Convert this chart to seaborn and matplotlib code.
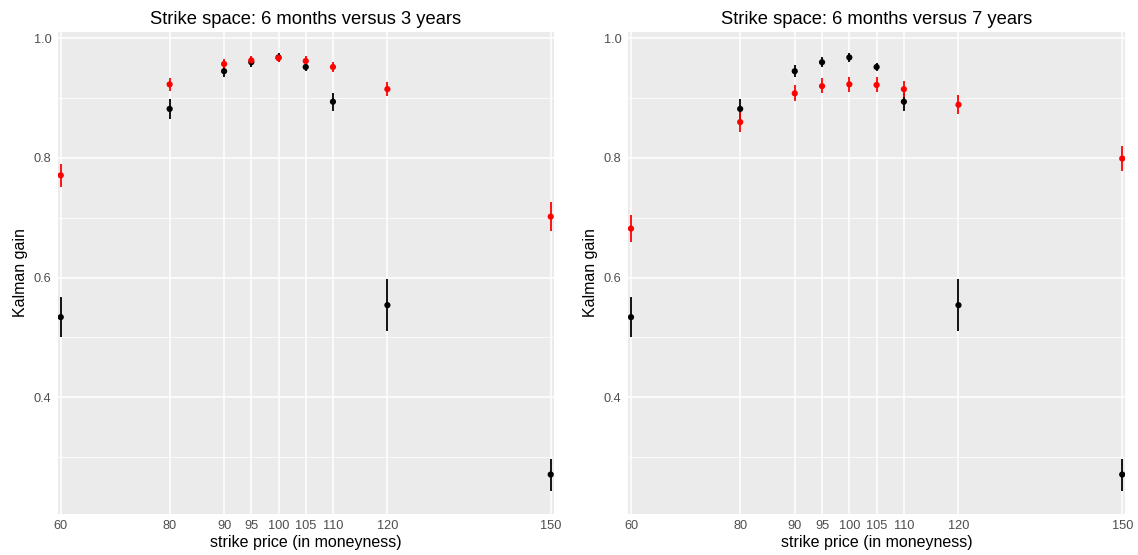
import matplotlib
matplotlib.use("Agg")
import matplotlib.pyplot as plt
import seaborn as sns
import pandas as pd
import numpy as np

# Strike grid (moneyness, %)
strikes = [60, 80, 90, 95, 100, 105, 110, 120, 150]

# Kalman gain estimates and 95% bands: 6-month contract
gain_6m = [0.534, 0.882, 0.945, 0.960, 0.968, 0.952, 0.894, 0.554, 0.271]
lo_6m = [0.501, 0.865, 0.935, 0.952, 0.961, 0.945, 0.879, 0.510, 0.244]
hi_6m = [0.568, 0.898, 0.955, 0.968, 0.975, 0.959, 0.909, 0.598, 0.297]

# 3-year contract
gain_3y = [0.771, 0.923, 0.957, 0.963, 0.967, 0.962, 0.952, 0.915, 0.702]
lo_3y = [0.751, 0.912, 0.948, 0.955, 0.960, 0.954, 0.944, 0.903, 0.678]
hi_3y = [0.790, 0.934, 0.966, 0.971, 0.974, 0.970, 0.960, 0.927, 0.727]

# 7-year contract
gain_7y = [0.682, 0.860, 0.908, 0.920, 0.923, 0.922, 0.915, 0.889, 0.799]
lo_7y = [0.659, 0.843, 0.895, 0.908, 0.911, 0.910, 0.902, 0.873, 0.779]
hi_7y = [0.704, 0.878, 0.922, 0.933, 0.935, 0.935, 0.928, 0.905, 0.820]

titles = ["Strike space: 6 months versus 3 years",
          "Strike space: 6 months versus 7 years"]
long_series = [(gain_3y, lo_3y, hi_3y), (gain_7y, lo_7y, hi_7y)]

sns.set_theme(style="darkgrid")
plt.rcParams["font.family"] = ["Liberation Sans", "DejaVu Sans"]

fig = plt.figure(figsize=(11.38, 5.55), dpi=100)
boxes = [[0.0510, 0.0744, 0.4358, 0.8674], [0.5521, 0.0744, 0.4369, 0.8674]]

for box, title, (g, lo, hi) in zip(boxes, titles, long_series):
    ax = fig.add_axes(box)
    ax.set_facecolor("#EBEBEB")
    for s in ax.spines.values():
        s.set_visible(False)

    short = pd.DataFrame({"strike": strikes, "gain": gain_6m, "lo": lo_6m, "hi": hi_6m})
    longer = pd.DataFrame({"strike": strikes, "gain": g, "lo": lo, "hi": hi})

    for df, col in [(short, "black"), (longer, "#FF0000")]:
        ax.vlines(df["strike"], df["lo"], df["hi"], colors=col, linewidth=1.3, zorder=3)
        sns.scatterplot(data=df, x="strike", y="gain", color=col, s=20,
                        edgecolor="none", ax=ax, zorder=4, legend=False)

    ax.set_xlim(59.5, 150.6)
    ax.set_ylim(0.2055, 1.01)
    ax.set_xticks(strikes)
    ax.set_xticklabels([str(v) for v in strikes])
    ax.set_yticks([0.4, 0.6, 0.8, 1.0])
    ax.set_yticks([0.3, 0.5, 0.7, 0.9], minor=True)
    ax.grid(False)
    ax.grid(True, which="major", axis="both", color="white", linewidth=1.1)
    ax.grid(True, which="minor", axis="y", color="white", linewidth=0.55)
    ax.tick_params(axis="both", which="major", length=2.8, width=0.8, color="#333333",
                   labelsize=9.2, labelcolor="#4D4D4D", pad=2)
    ax.tick_params(axis="y", which="minor", length=0)
    ax.set_axisbelow(True)

    ax.set_title(title, fontsize=13.2, color="black", pad=6)
    ax.set_xlabel("strike price (in moneyness)", fontsize=11.5, color="black", labelpad=2)
    ax.set_ylabel("Kalman gain", fontsize=11.5, color="black", labelpad=4)

fig.savefig("out.png", dpi=100)
